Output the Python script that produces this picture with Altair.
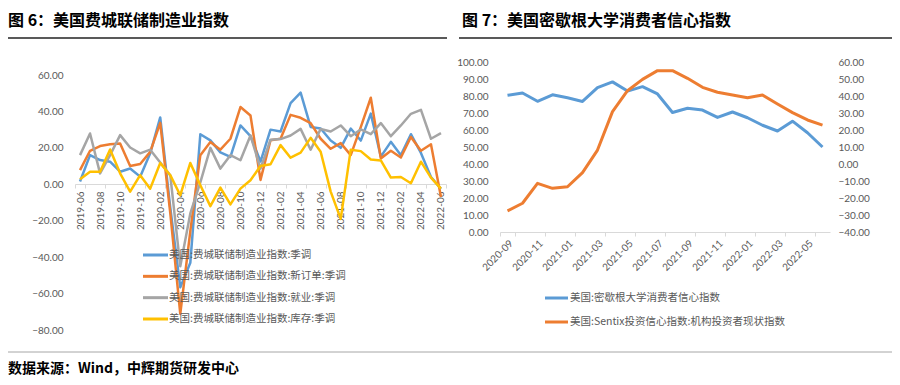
import altair as alt
import pandas as pd

# ---------------- data ----------------
left_months = [f"{y}-{m:02d}" for y, m in
               [(2019, m) for m in range(6, 13)] + [(2020, m) for m in range(1, 13)] +
               [(2021, m) for m in range(1, 13)] + [(2022, m) for m in range(1, 7)]]

left_names = ["美国:费城联储制造业指数:季调",
              "美国:费城联储制造业指数:新订单:季调",
              "美国:费城联储制造业指数:就业:季调",
              "美国:费城联储制造业指数:库存:季调"]
left_colors = ["#5B9BD5", "#ED7D31", "#A5A5A5", "#FFC000"]

philly_general = [1.5, 16.0, 13.3, 12.4, 6.9, 8.7, 4.2, 17.0, 36.7, -12.7, -56.6, -43.1,
                  27.5, 24.1, 17.5, 15.0, 32.3, 26.5, 12.5, 30.0, 29.0, 44.6, 50.3, 31.5,
                  30.6, 24.0, 20.0, 30.6, 24.0, 38.8, 15.2, 23.3, 16.0, 27.5, 17.2, 4.0, -2.5]
philly_orders = [7.8, 18.4, 21.0, 22.0, 22.4, 10.0, 11.1, 17.8, 33.7, -15.7, -71.2, -25.7,
                 16.0, 23.2, 19.0, 25.0, 42.4, 37.8, 2.4, 24.2, 25.0, 38.1, 36.5, 33.6,
                 25.0, 19.5, 22.6, 16.0, 31.4, 47.5, 14.2, 18.4, 14.7, 26.0, 18.4, 22.0, -7.0]
philly_employment = [16.0, 27.9, 6.0, 16.0, 27.0, 20.2, 17.0, 19.0, 12.0, 5.0, -45.0, -16.0,
                     1.0, 20.0, 8.6, 16.0, 13.2, 26.8, 8.6, 24.5, 24.8, 26.8, 30.4, 19.0,
                     30.4, 29.0, 32.3, 26.4, 30.1, 27.5, 33.6, 26.4, 32.3, 38.7, 40.9, 25.0, 28.1]
philly_inventory = [2.7, 6.9, 6.9, 19.1, 6.0, -4.0, 5.0, -2.4, 11.7, 5.0, -6.0, 11.7,
                    -0.5, -12.0, -1.8, -11.0, -2.4, 2.2, 10.0, 11.0, 21.5, 14.6, 17.4, 25.5,
                    17.9, -4.0, -19.0, 19.0, 18.2, 13.6, 13.1, 3.7, 4.0, 0.6, 12.4, 3.7, -2.4]
left_series = [philly_general, philly_orders, philly_employment, philly_inventory]
left_ticks = [-80, -60, -40, -20, 0, 20, 40, 60]

right_months = [f"{y}-{m:02d}" for y, m in
                [(2020, m) for m in range(9, 13)] + [(2021, m) for m in range(1, 13)] +
                [(2022, m) for m in range(1, 7)]]
right_names = ["美国:密歇根大学消费者信心指数",
               "美国:Sentix投资信心指数:机构投资者现状指数"]
right_colors = ["#5B9BD5", "#ED7D31"]
michigan = [80.4, 81.8, 76.9, 80.7, 79.0, 76.8, 84.9, 88.3, 82.9, 85.5, 81.2,
            70.3, 72.8, 71.7, 67.4, 70.6, 67.2, 62.8, 59.4, 65.2, 58.4, 50.0]
sentix = [-27.6, -23.1, -11.4, -14.3, -13.4, -5.1, 8.2, 30.8, 43.1, 49.8, 54.9,
          54.9, 50.4, 45.1, 42.2, 40.6, 39.0, 40.6, 35.3, 30.2, 25.9, 22.9]
right_left_ticks = list(range(0, 101, 10))
right_right_ticks = list(range(-40, 61, 10))

title_left = "图 6：美国费城联储制造业指数"
title_right = "图 7：美国密歇根大学消费者信心指数"
source_text = "数据来源：Wind，中辉期货研发中心"

# ---------------- styling ----------------
W, H = 884, 369
NUM_FONT = "Lato"
CJK_FONT = "Noto Sans CJK SC"
LABEL_COLOR = "#595959"
AXIS_COLOR = "#D9D9D9"

layers = []

# ---- left chart ----
lx_scale = alt.Scale(type="band", domain=left_months, range=[67, 438],
                     paddingInner=0, paddingOuter=0)
ly_scale = alt.Scale(domain=[-80, 60], range=[322, 67], nice=False, zero=False)

for k, (name, vals, col) in enumerate(zip(left_names, left_series, left_colors)):
    df = pd.DataFrame({"month": left_months, "value": vals})
    if k == 0:
        xax = alt.Axis(orient="bottom", values=left_months[::2], labelAngle=-90,
                       offset=-193, domainColor=AXIS_COLOR, tickColor=AXIS_COLOR,
                       tickSize=4, tickBand="extent", labelFont=NUM_FONT,
                       labelFontSize=10, labelColor=LABEL_COLOR, labelPadding=3,
                       title=None, grid=False, labelOverlap=False)
        yax = alt.Axis(orient="left", values=left_ticks, format=".2f", offset=-59,
                       domain=False, ticks=False, labelPadding=4, labelFont=NUM_FONT,
                       labelFontSize=10, labelColor=LABEL_COLOR, title=None,
                       grid=False, labelOverlap=False)
    else:
        xax = None
        yax = None
    layers.append(
        alt.Chart(df).mark_line(color=col, strokeWidth=2.5, strokeJoin="round")
        .encode(x=alt.X("month:O", scale=lx_scale, axis=xax, bandPosition=0.5),
                y=alt.Y("value:Q", scale=ly_scale, axis=yax))
    )

leg_left = pd.DataFrame({"name": left_names})
leg_ly = alt.Scale(type="point", domain=left_names, range=[247, 311], padding=0)
leg_lc = alt.Scale(domain=left_names, range=left_colors)
layers.append(
    alt.Chart(leg_left).mark_rule(strokeWidth=3)
    .encode(x=alt.value(135), x2=alt.value(160),
            y=alt.Y("name:N", scale=leg_ly, axis=None),
            color=alt.Color("name:N", scale=leg_lc, legend=None))
)
layers.append(
    alt.Chart(leg_left).mark_text(align="left", baseline="middle", font=CJK_FONT,
                                  fontSize=10.5, color=LABEL_COLOR)
    .encode(x=alt.value(161), y=alt.Y("name:N", scale=leg_ly, axis=None),
            text="name:N")
)

# ---- right chart ----
rx_scale = alt.Scale(type="band", domain=right_months, range=[492, 822],
                     paddingInner=0, paddingOuter=0)
ry1_scale = alt.Scale(domain=[0, 100], range=[224, 54], nice=False, zero=False)
ry2_scale = alt.Scale(domain=[-40, 60], range=[224, 54], nice=False, zero=False)

df_m = pd.DataFrame({"month": right_months, "value": michigan})
df_s = pd.DataFrame({"month": right_months, "value": sentix})

layers.append(
    alt.Chart(df_m).mark_line(color=right_colors[0], strokeWidth=3, strokeJoin="round")
    .encode(x=alt.X("month:O", scale=rx_scale, bandPosition=0.5,
                    axis=alt.Axis(orient="bottom", values=right_months[::2],
                                  labelAngle=-45, offset=-145,
                                  domainColor=AXIS_COLOR, tickColor=AXIS_COLOR, tickSize=4,
                                  tickBand="extent", labelFont=NUM_FONT, labelFontSize=10,
                                  labelColor=LABEL_COLOR, labelPadding=2, title=None,
                                  grid=False, labelOverlap=False)),
            y=alt.Y("value:Q", scale=ry1_scale,
                    axis=alt.Axis(orient="left", values=right_left_ticks, format=".2f",
                                  offset=-484, domain=False, ticks=False, labelPadding=4,
                                  labelFont=NUM_FONT, labelFontSize=10,
                                  labelColor=LABEL_COLOR, title=None, grid=False,
                                  labelOverlap=False)))
)
layers.append(
    alt.Chart(df_s).mark_line(color=right_colors[1], strokeWidth=3, strokeJoin="round")
    .encode(x=alt.X("month:O", scale=rx_scale, bandPosition=0.5, axis=None),
            y=alt.Y("value:Q", scale=ry2_scale,
                    axis=alt.Axis(orient="right", values=right_right_ticks, format=".2f",
                                  offset=-58, domain=False, ticks=False, labelPadding=4,
                                  labelFont=NUM_FONT, labelFontSize=10,
                                  labelColor=LABEL_COLOR, title=None, grid=False,
                                  labelOverlap=False)))
)

leg_right = pd.DataFrame({"name": right_names})
leg_ry = alt.Scale(type="point", domain=right_names, range=[290, 314], padding=0)
leg_rc = alt.Scale(domain=right_names, range=right_colors)
layers.append(
    alt.Chart(leg_right).mark_rule(strokeWidth=3)
    .encode(x=alt.value(537), x2=alt.value(560),
            y=alt.Y("name:N", scale=leg_ry, axis=None),
            color=alt.Color("name:N", scale=leg_rc, legend=None))
)
layers.append(
    alt.Chart(leg_right).mark_text(align="left", baseline="middle", font=CJK_FONT,
                                   fontSize=10.5, color=LABEL_COLOR)
    .encode(x=alt.value(562), y=alt.Y("name:N", scale=leg_ry, axis=None),
            text="name:N")
)

# ---- titles, separators, source ----
one = pd.DataFrame({"a": [0]})
layers.append(
    alt.Chart(pd.DataFrame({"t": [title_left]})).mark_text(
        align="left", baseline="middle", font=CJK_FONT, fontSize=16,
        fontWeight="bold", color="#000000")
    .encode(x=alt.value(0), y=alt.value(12.5), text="t:N")
)
layers.append(
    alt.Chart(pd.DataFrame({"t": [title_right]})).mark_text(
        align="left", baseline="middle", font=CJK_FONT, fontSize=16,
        fontWeight="bold", color="#000000")
    .encode(x=alt.value(454), y=alt.value(12.5), text="t:N")
)
layers.append(
    alt.Chart(one).mark_rule(color="#595959", strokeWidth=2)
    .encode(x=alt.value(0), x2=alt.value(439), y=alt.value(30))
)
layers.append(
    alt.Chart(one).mark_rule(color="#595959", strokeWidth=2)
    .encode(x=alt.value(451), x2=alt.value(884), y=alt.value(30))
)
layers.append(
    alt.Chart(one).mark_rule(color="#A6A6A6", strokeWidth=1)
    .encode(x=alt.value(0), x2=alt.value(884), y=alt.value(344))
)
layers.append(
    alt.Chart(pd.DataFrame({"t": [source_text]})).mark_text(
        align="left", baseline="bottom", font=CJK_FONT, fontSize=14,
        fontWeight="bold", color="#000000")
    .encode(x=alt.value(0), y=alt.value(368), text="t:N")
)

chart = (
    alt.layer(*layers)
    .resolve_scale(x="independent", y="independent", color="independent")
    .properties(width=W, height=H, autosize=alt.AutoSizeParams(type="none"), padding=0)
    .configure_view(stroke=None)
)

chart.save("out.html", embed_options={"renderer": "svg", "actions": False})
